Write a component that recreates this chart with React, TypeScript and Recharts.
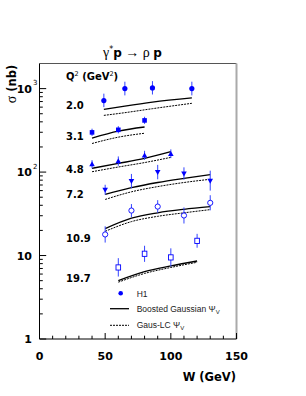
import React from 'react';
import {
    ComposedChart,
    Line,
    Scatter,
    ErrorBar,
    XAxis,
    YAxis,
    ReferenceLine
} from 'recharts';

// H1 points per Q2 bin (W in GeV, sigma in nb)
const q20W = [49, 65, 86, 116];
const q20Sigma = [720, 1000, 1020, 1000];
const q20ErrLo = [120, 170, 170, 170];
const q20ErrHi = [150, 210, 210, 210];

const q31W = [40, 60, 80];
const q31Sigma = [299, 321, 416];
const q31ErrLo = [28, 30, 38];
const q31ErrHi = [32, 34, 44];

const q48W = [40, 60, 80, 100];
const q48Sigma = [124, 135, 158, 165];
const q48ErrLo = [13, 16, 18, 18];
const q48ErrHi = [15, 19, 22, 22];

const q72W = [50, 70, 90, 110, 130];
const q72Sigma = [61.5, 78, 100, 96, 79];
const q72ErrLo = [8, 14, 18, 15, 19];
const q72ErrHi = [9, 17, 22, 18, 25];

const q109W = [50, 70, 90, 110, 130];
const q109Sigma = [17.9, 34.6, 38.6, 30.2, 42.8];
const q109ErrLo = [3.6, 5.7, 6, 6, 8];
const q109ErrHi = [4.5, 6.8, 7.5, 7.5, 10];

const q197W = [60, 80, 100, 120];
const q197Sigma = [7.2, 10.5, 9.5, 15];
const q197ErrLo = [1.6, 2.1, 2.1, 2.6];
const q197ErrHi = [2.1, 2.6, 2.7, 3.2];

// model curves: Boosted Gaussian (solid) and Gaus-LC (dashed)
const q20BG = [563, 618, 690, 775];
const q20LC = [478, 515, 575, 667];
const q31BG = [256, 310, 347];
const q31LC = [220, 262, 292];
const q48BG = [111, 127, 146, 176];
const q48LC = [101, 115, 130, 150];
const q72BG = [54, 65, 75, 84, 93];
const q72LC = [47, 58, 67, 75, 82];
const q109BG = [21, 28, 32.5, 35.8, 38.5];
const q109LC = [19.5, 25.5, 29.5, 32.5, 35.5];
const q197BG = [5.0, 6.4, 7.5, 8.6];
const q197LC = [4.8, 6.1, 7.2, 8.3];

const q2Labels = ['2.0', '3.1', '4.8', '7.2', '10.9', '19.7'];
const xTicks = [0, 10, 20, 30, 40, 50, 60, 70, 80, 90, 100, 110, 120, 130, 140, 150];
const yTicks = [1, 2, 3, 4, 5, 6, 7, 8, 9, 10, 20, 30, 40, 50, 60, 70, 80, 90,
    100, 200, 300, 400, 500, 600, 700, 800, 900, 1000];

const BLUE = '#0000ff';
const SANS = '"DejaVu Sans", sans-serif';
const SERIF = '"Liberation Serif", serif';

const points = (w: number[], s: number[], lo: number[], hi: number[]) =>
    w.map((x, i) => ({ w: x, s: s[i], err: [lo[i], hi[i]] }));
const curve = (w: number[], s: number[]) => w.map((x, i) => ({ w: x, s: s[i] }));

const filledCircle = (p: any) => <circle cx={p.cx} cy={p.cy} r={2.6} fill={BLUE} />;
const filledSquare = (p: any) => <rect x={p.cx - 2.3} y={p.cy - 2.3} width={4.6} height={4.6} fill={BLUE} />;
const triUp = (p: any) => (
    <polygon points={`${p.cx},${p.cy - 3} ${p.cx - 2.8},${p.cy + 2} ${p.cx + 2.8},${p.cy + 2}`} fill={BLUE} />
);
const triDown = (p: any) => (
    <polygon points={`${p.cx},${p.cy + 3} ${p.cx - 2.8},${p.cy - 2} ${p.cx + 2.8},${p.cy - 2}`} fill={BLUE} />
);
const openCircle = (p: any) => <circle cx={p.cx} cy={p.cy} r={2.6} fill="#fff" stroke={BLUE} strokeWidth={0.9} />;
const openSquare = (p: any) => (
    <rect x={p.cx - 2.3} y={p.cy - 2.6} width={4.6} height={5.2} fill="#fff" stroke={BLUE} strokeWidth={0.9} />
);

const groups = [
    { pts: points(q20W, q20Sigma, q20ErrLo, q20ErrHi), bg: curve(q20W, q20BG), lc: curve(q20W, q20LC), shape: filledCircle },
    { pts: points(q31W, q31Sigma, q31ErrLo, q31ErrHi), bg: curve(q31W, q31BG), lc: curve(q31W, q31LC), shape: filledSquare },
    { pts: points(q48W, q48Sigma, q48ErrLo, q48ErrHi), bg: curve(q48W, q48BG), lc: curve(q48W, q48LC), shape: triUp },
    { pts: points(q72W, q72Sigma, q72ErrLo, q72ErrHi), bg: curve(q72W, q72BG), lc: curve(q72W, q72LC), shape: triDown },
    { pts: points(q109W, q109Sigma, q109ErrLo, q109ErrHi), bg: curve(q109W, q109BG), lc: curve(q109W, q109LC), shape: openCircle },
    { pts: points(q197W, q197Sigma, q197ErrLo, q197ErrHi), bg: curve(q197W, q197BG), lc: curve(q197W, q197LC), shape: openSquare },
];

const XTick = (props: any) => {
    const { x, y, payload } = props;
    const v = payload.value;
    const major = v % 50 === 0;
    return (
        <g>
            <line x1={x} y1={y} x2={x} y2={y - (major ? 6 : 3.3)} stroke="#000" />
            {major && (
                <text x={x} y={y + 21} textAnchor="middle" fontFamily={SANS} fontWeight="bold" fontSize={11} fill="#000">
                    {v}
                </text>
            )}
        </g>
    );
};

const YTick = (props: any) => {
    const { x, y, payload } = props;
    const v = payload.value;
    const exp = Math.log10(v);
    const major = Math.abs(exp - Math.round(exp)) < 1e-6;
    let label = null;
    if (major) {
        const e = Math.round(exp);
        label = (
            <g fontFamily={SANS} fill="#000">
                <text x={32} y={y + 4} textAnchor="end" fontWeight="bold" fontSize={11}>
                    {e === 0 ? '1' : '10'}
                </text>
                {e > 1 && (
                    <text x={33} y={y - 3.5} fontSize={7}>{e}</text>
                )}
            </g>
        );
    }
    return (
        <g>
            <line x1={x} y1={y} x2={x + (major ? 6.7 : 3.3)} y2={y} stroke="#000" />
            {label}
        </g>
    );
};

export default function App() {
    return (
        <div style={{ position: 'absolute', left: 0, top: 0, width: 306, height: 396, background: '#fff' }}>
            <ComposedChart
                width={306}
                height={396}
                margin={{ top: 63.5, right: 69.5, bottom: 0, left: 0 }}
            >
                <XAxis
                    type="number"
                    dataKey="w"
                    domain={[0, 150]}
                    ticks={xTicks}
                    interval={0}
                    allowDataOverflow
                    height={57}
                    tickLine={false}
                    tickSize={0}
                    tickMargin={0}
                    stroke="#000"
                    tick={XTick}
                />
                <YAxis
                    type="number"
                    dataKey="s"
                    scale="log"
                    domain={[1, 2000]}
                    ticks={yTicks}
                    interval={0}
                    allowDataOverflow
                    width={39.5}
                    tickLine={false}
                    tickSize={0}
                    tickMargin={0}
                    stroke="#000"
                    tick={YTick}
                />
                <ReferenceLine y={2000} stroke="#555" strokeWidth={1} />
                <ReferenceLine x={150} stroke="#aaa" strokeWidth={2} />
                {groups.map((g, i) => (
                    <Line
                        key={`bg${i}`}
                        data={g.bg}
                        dataKey="s"
                        type="monotone"
                        stroke="#000"
                        strokeWidth={1.3}
                        dot={false}
                        isAnimationActive={false}
                    />
                ))}
                {groups.map((g, i) => (
                    <Line
                        key={`lc${i}`}
                        data={g.lc}
                        dataKey="s"
                        type="monotone"
                        stroke="#000"
                        strokeWidth={1}
                        strokeDasharray="2 1"
                        dot={false}
                        isAnimationActive={false}
                    />
                ))}
                {groups.map((g, i) => (
                    <Scatter
                        key={`pts${i}`}
                        data={g.pts}
                        dataKey="s"
                        shape={g.shape}
                        isAnimationActive={false}
                    >
                        <ErrorBar dataKey="err" direction="y" width={0} stroke="#3344ff" strokeWidth={1} />
                    </Scatter>
                ))}
            </ComposedChart>
            <svg
                width={306}
                height={396}
                style={{ position: 'absolute', left: 0, top: 0, pointerEvents: 'none' }}
            >
                {/* title */}
                <text x={103} y={57} fontSize={14} fill="#000">
                    <tspan fontFamily={SERIF}>γ</tspan>
                    <tspan fontFamily={SANS} fontSize={8} dy={-5}>*</tspan>
                    <tspan fontFamily={SANS} fontWeight="bold" fontSize={12} dy={5}>p</tspan>
                    <tspan fontFamily={SERIF}> → ρ </tspan>
                    <tspan fontFamily={SANS} fontWeight="bold" fontSize={12}>p</tspan>
                </text>
                {/* y title */}
                <text transform="translate(16,84) rotate(-90)" textAnchor="middle" fill="#000">
                    <tspan fontFamily={SERIF} fontSize={14}>σ</tspan>
                    <tspan fontFamily={SANS} fontWeight="bold" fontSize={11.5}> (nb)</tspan>
                </text>
                {/* x title */}
                <text x={236} y={381} textAnchor="end" fontFamily={SANS} fontWeight="bold" fontSize={11.5} fill="#000">
                    W  (GeV)
                </text>
                {/* Q2 labels */}
                <text x={66} y={80} fontFamily={SANS} fontWeight="bold" fontSize={10} fill="#000">
                    Q<tspan fontSize={6.5} fontWeight="normal" dy={-4}>2</tspan>
                    <tspan dy={4}>  (GeV</tspan>
                    <tspan fontSize={6.5} fontWeight="normal" dy={-4}>2</tspan>
                    <tspan dy={4}>)</tspan>
                </text>
                {q2Labels.map((t, i) => (
                    <text
                        key={t}
                        x={66}
                        y={[105, 136, 169, 194, 238, 278][i] + 3.7}
                        fontFamily={SANS}
                        fontWeight="bold"
                        fontSize={10}
                        fill="#000"
                    >
                        {t}
                    </text>
                ))}
                {/* legend */}
                <circle cx={120.7} cy={293.3} r={2.3} fill={BLUE} />
                <line x1={110} y1={308.7} x2={129} y2={308.7} stroke="#000" strokeWidth={1.3} />
                <line x1={110} y1={325.3} x2={129} y2={325.3} stroke="#000" strokeWidth={1} strokeDasharray="2 1" />
                <g fontFamily='"Liberation Sans", sans-serif' fontSize={8.5} fill="#222">
                    <text x={136.7} y={296.5}>H1</text>
                    <text x={136.7} y={311.8}>
                        Boosted Gaussian Ψ<tspan fontSize={6} dy={2}>V</tspan>
                    </text>
                    <text x={136.7} y={328.4}>
                        Gaus-LC Ψ<tspan fontSize={6} dy={2}>V</tspan>
                    </text>
                </g>
            </svg>
        </div>
    );
}
